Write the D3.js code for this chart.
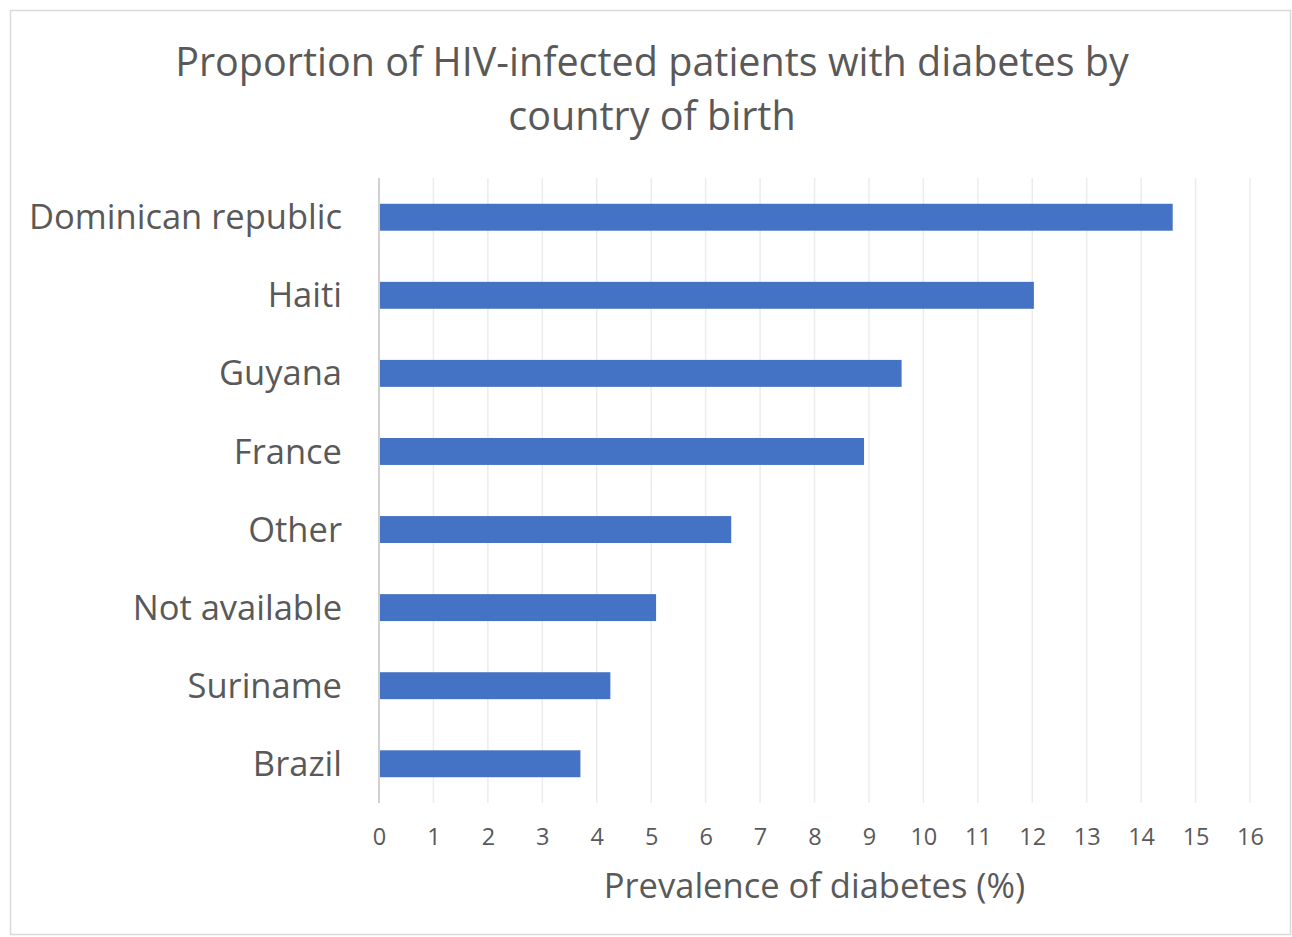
<!DOCTYPE html>
<html>
<head>
<meta charset="utf-8">
<script src="https://cdn.jsdelivr.net/npm/d3@7"></script>
<style>
  body { margin: 0; background: #fff; }
  text { font-family: "Open Sans", "Noto Sans", sans-serif; fill: #595959; }
</style>
</head>
<body>
<div id="target"></div>
<script>
// data
let countries = ["Dominican republic", "Haiti", "Guyana", "France", "Other", "Not available", "Suriname", "Brazil"]
let prevalence = [14.58, 12.03, 9.6, 8.91, 6.47, 5.09, 4.25, 3.7]
let xTicks = d3.range(0, 17)
let titleLines = ["Proportion of HIV-infected patients with diabetes by", "country of birth"]
let xTitle = "Prevalence of diabetes (%)"

let width = 1292, height = 937
let margin = { top: 178, left: 379, right: 42, bottom: 134 }

let svg = d3.select("#target").append("svg")
    .attr("width", width)
    .attr("height", height)

// chart frame
svg.append("rect")
    .attr("x", 10.5).attr("y", 10.5)
    .attr("width", 1280).attr("height", 924)
    .attr("fill", "#fff")
    .attr("stroke", "#d9d9d9")
    .attr("stroke-width", 1.5)

let x = d3.scaleLinear()
    .domain([0, 16])
    .range([margin.left, width - margin.right])

let y = d3.scaleBand()
    .domain(countries)
    .range([margin.top, height - margin.bottom])
    .paddingInner(0.655)
    .paddingOuter(0.33)

// gridlines
svg.append("g").selectAll("line").data(xTicks.slice(1)).enter().append("line")
    .attr("x1", d => x(d)).attr("x2", d => x(d))
    .attr("y1", margin.top).attr("y2", height - margin.bottom)
    .attr("stroke", "#ececec")
    .attr("stroke-width", 1.5)

// bars
svg.append("g").selectAll("rect").data(countries).enter().append("rect")
    .attr("x", x(0))
    .attr("y", d => y(d))
    .attr("width", (d, i) => x(prevalence[i]) - x(0))
    .attr("height", y.bandwidth())
    .attr("fill", "#4472c4")

// category axis line
svg.append("line")
    .attr("x1", x(0)).attr("x2", x(0))
    .attr("y1", margin.top).attr("y2", height - margin.bottom)
    .attr("stroke", "#d0d0d0")
    .attr("stroke-width", 2)

// x axis
let xAxis = d3.axisBottom(x).tickValues(xTicks).tickSize(0).tickPadding(0)
let gx = svg.append("g")
    .attr("transform", `translate(0,${height - margin.bottom + 34})`)
    .call(xAxis)
gx.select(".domain").remove()
gx.attr("font-family", null)
gx.selectAll("text")
    .attr("font-size", 23.5)
    .attr("dy", "0.35em")

// y axis labels
let yAxis = d3.axisLeft(y).tickSize(0).tickPadding(37)
let gy = svg.append("g")
    .attr("transform", `translate(${x(0)},0)`)
    .call(yAxis)
gy.select(".domain").remove()
gy.attr("font-family", null)
gy.selectAll("text")
    .attr("font-size", 34.5)
    .attr("dy", "0.35em")

// title
svg.append("g").selectAll("text").data(titleLines).enter().append("text")
    .attr("x", 652)
    .attr("y", (d, i) => 62 + i * 54)
    .attr("dy", "0.35em")
    .attr("text-anchor", "middle")
    .attr("font-size", 39.5)
    .text(d => d)

// x axis title
svg.append("text")
    .attr("x", (x(0) + x(16)) / 2)
    .attr("y", 886)
    .attr("dy", "0.35em")
    .attr("text-anchor", "middle")
    .attr("font-size", 34.5)
    .text(xTitle)
</script>
</body>
</html>
